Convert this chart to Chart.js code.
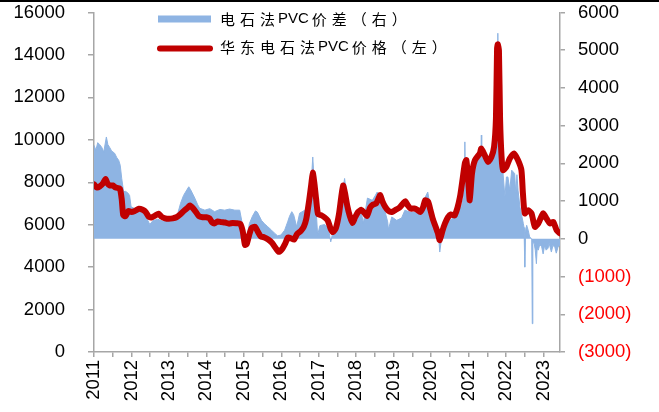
<!DOCTYPE html>
<html>
<head>
<meta charset="utf-8">
<script src="https://cdn.jsdelivr.net/npm/chart.js@4"></script>
<style>
  html, body { margin: 0; padding: 0; background: #fff; overflow: hidden; }
  #wrap { position: relative; width: 659px; height: 412px; }
  #topRule { position: absolute; left: 0; top: 0; width: 659px; height: 2px; background: #000; }
</style>
</head>
<body>
<div id="wrap">
  <canvas id="pvcChart" width="659" height="412"></canvas>
  <div id="topRule"></div>
</div>
<script>
const seriesNames = ['电石法PVC价差（右）', '华东电石法PVC价格（左）'];

// 华东电石法PVC价格 (元/吨, left axis)
const priceYears = [
    2011.00, 2011.08, 2011.15, 2011.24, 2011.31, 2011.36, 2011.42, 2011.50, 2011.58, 2011.69,
    2011.74, 2011.78, 2011.84, 2011.92, 2012.00, 2012.09, 2012.20, 2012.30, 2012.38, 2012.46,
    2012.55, 2012.65, 2012.72, 2012.80, 2012.90, 2013.00, 2013.10, 2013.20, 2013.30, 2013.40,
    2013.50, 2013.56, 2013.64, 2013.72, 2013.80, 2013.90, 2014.00, 2014.08, 2014.16, 2014.22,
    2014.30, 2014.40, 2014.50, 2014.60, 2014.70, 2014.80, 2014.90, 2014.97, 2015.03, 2015.08,
    2015.14, 2015.21, 2015.30, 2015.38, 2015.45, 2015.55, 2015.65, 2015.75, 2015.83, 2015.93,
    2016.02, 2016.10, 2016.18, 2016.27, 2016.34, 2016.42, 2016.52, 2016.60, 2016.67, 2016.74,
    2016.80, 2016.84, 2016.88, 2016.93, 2016.98, 2017.06, 2017.15, 2017.24, 2017.32, 2017.38,
    2017.46, 2017.54, 2017.60, 2017.65, 2017.70, 2017.76, 2017.83, 2017.90, 2017.97, 2018.05,
    2018.14, 2018.22, 2018.29, 2018.37, 2018.45, 2018.53, 2018.60, 2018.64, 2018.70, 2018.77,
    2018.86, 2018.95, 2019.05, 2019.15, 2019.25, 2019.31, 2019.38, 2019.45, 2019.55, 2019.63,
    2019.71, 2019.78, 2019.84, 2019.92, 2019.98, 2020.04, 2020.12, 2020.18, 2020.23, 2020.30,
    2020.37, 2020.45, 2020.53, 2020.63, 2020.77, 2020.90, 2020.94, 2020.99, 2021.03, 2021.09,
    2021.17, 2021.30, 2021.34, 2021.43, 2021.52, 2021.61, 2021.68, 2021.73, 2021.76, 2021.78,
    2021.81, 2021.84, 2021.88, 2021.92, 2022.01, 2022.10, 2022.21, 2022.32, 2022.41, 2022.45,
    2022.50, 2022.59, 2022.68, 2022.77, 2022.86, 2022.99, 2023.08, 2023.17, 2023.26, 2023.35,
    2023.44
];
const priceValues = [
    7900, 7750, 7800, 7950, 8150, 7950, 7850, 7850, 7750, 7700,
    7200, 6450, 6400, 6650, 6600, 6650, 6750, 6700, 6600, 6380,
    6350, 6450, 6520, 6380, 6300, 6280, 6300, 6350, 6480, 6650,
    6800, 6900, 6780, 6600, 6400, 6350, 6350, 6300, 6100, 6060,
    6150, 6120, 6100, 6050, 6080, 6070, 6050, 5700, 5050, 5100,
    5500, 5850, 5900, 5650, 5450, 5400, 5300, 5150, 4950, 4720,
    4850, 5100, 5400, 5350, 5300, 5550, 5700, 5900, 6300, 7100,
    7900, 8450, 8000, 7200, 6500, 6450, 6350, 6200, 5800, 5650,
    5850, 6500, 7300, 7850, 7500, 6900, 6400, 6080, 6350, 6600,
    6700, 6550, 6420, 6800, 6950, 7000, 7250, 7400, 7100, 6850,
    6650, 6600, 6700, 6800, 7000, 7100, 6900, 6760, 6760, 6700,
    6600, 6800, 7150, 7080, 6700, 6300, 5900, 5600, 5270, 5700,
    6060, 6350, 6480, 6440, 7310, 8890, 9040, 8100, 7150, 8410,
    9040, 9360, 9590, 9280, 8960, 9200, 9670, 11000, 14300, 14500,
    14200, 11000, 9200, 8570, 8730, 9120, 9360, 9040, 8570, 7480,
    6530, 6680, 6530, 5900, 6060, 6530, 6290, 6060, 6130, 5740,
    5590
];

// 电石法PVC价差 (元/吨, right axis)
const spreadYears = [
    2011.00, 2011.05, 2011.10, 2011.15, 2011.21, 2011.26, 2011.33, 2011.37, 2011.42, 2011.47,
    2011.55, 2011.61, 2011.66, 2011.70, 2011.74, 2011.79, 2011.84, 2011.90, 2011.95, 2011.99,
    2012.09, 2012.22, 2012.35, 2012.43, 2012.49, 2012.57, 2012.70, 2012.83, 2012.97, 2013.10,
    2013.23, 2013.31, 2013.39, 2013.48, 2013.53, 2013.58, 2013.69, 2013.77, 2013.82, 2013.96,
    2014.09, 2014.22, 2014.36, 2014.49, 2014.62, 2014.76, 2014.89, 2014.94, 2014.98, 2015.05,
    2015.10, 2015.15, 2015.23, 2015.31, 2015.36, 2015.47, 2015.55, 2015.64, 2015.74, 2015.82,
    2015.90, 2015.99, 2016.09, 2016.17, 2016.22, 2016.28, 2016.33, 2016.41, 2016.49, 2016.63,
    2016.71, 2016.76, 2016.80, 2016.84, 2016.88, 2016.92, 2016.97, 2017.03, 2017.16, 2017.24,
    2017.29, 2017.32, 2017.37, 2017.48, 2017.56, 2017.61, 2017.69, 2017.73, 2017.77, 2017.82,
    2017.90, 2018.01, 2018.14, 2018.19, 2018.30, 2018.43, 2018.51, 2018.56, 2018.66, 2018.76,
    2018.84, 2018.86, 2018.95, 2019.08, 2019.21, 2019.30, 2019.43, 2019.56, 2019.70, 2019.83,
    2019.91, 2019.99, 2020.07, 2020.15, 2020.20, 2020.23, 2020.28, 2020.37, 2020.50, 2020.63,
    2020.74, 2020.81, 2020.86, 2020.89, 2020.90, 2020.91, 2020.94, 2020.99, 2021.03, 2021.12,
    2021.21, 2021.30, 2021.33, 2021.34, 2021.35, 2021.43, 2021.52, 2021.65, 2021.74, 2021.765,
    2021.78, 2021.795, 2021.82, 2021.86, 2021.92, 2021.97, 2022.01, 2022.05, 2022.10, 2022.15,
    2022.23, 2022.26, 2022.29, 2022.32, 2022.37, 2022.46, 2022.48, 2022.50, 2022.52, 2022.55,
    2022.59, 2022.63, 2022.685, 2022.70, 2022.715, 2022.75, 2022.78, 2022.81, 2022.83, 2022.86,
    2022.90, 2022.95, 2022.99, 2023.03, 2023.07, 2023.12, 2023.15, 2023.21, 2023.25, 2023.30,
    2023.34, 2023.39, 2023.44
];
const spreadValues = [
    2480, 2350, 2550, 2500, 2420, 2300, 2700, 2500, 2420, 2330,
    2270, 2150, 2080, 1950, 1600, 1250, 1260, 1220, 1150, 850,
    800, 820, 680, 500, 380, 480, 520, 470, 520, 500,
    650, 940, 1150, 1300, 1380, 1300, 1080, 900, 810, 760,
    800, 720, 780, 760, 790, 760, 760, 500, 230, 60,
    150, 410, 600, 740, 710, 490, 400, 320, 230, 150,
    80, 100, 230, 450, 600, 720, 640, 320, 680, 760,
    820, 1100, 1500, 2170, 1500, 940, 100, 350, 380, 300,
    100, -80, 150, 490, 800, 1110, 1600, 1300, 940, 680,
    410, 580, 680, 410, 1080, 1020, 1150, 1240, 980, 760,
    450, 250, 580, 490, 550, 760, 710, 710, 680, 1080,
    1240, 760, 230, 0, 50, -350, 30, 280, 490, 580,
    850, 850, 1100, 1500, 2570, 1600, 1730, 1200, 890, 1550,
    2000, 2200, 2300, 2750, 2200, 2080, 2040, 2220, 2350, 3000,
    5450, 3000, 2400, 2080, 1730, 1110, 1640, 1640, 1290, 1820,
    1730, 1200, 1700, 1290, 850, 410, 300, -750, 200, 360,
    230, 50, 0, -2250, -100, -120, -300, -660, -250, -300,
    -150, -210, -400, -170, -300, -250, -120, -350, -180, -210,
    -380, -210, -170
];

const priceColor = '#C00000';
const spreadColor = '#8EB4E3';
const axisColor = '#A6A6A6';
const tickFont = { size: 18.5, family: '"Liberation Sans", Arial, sans-serif' };

// CJK glyphs on a fixed 20px pitch, latin runs at their natural width
function drawLegendText(c, text, x, y) {
    let cx = x, run = '';
    c.textBaseline = 'middle';
    c.textAlign = 'left';
    c.fillStyle = '#000';
    const flush = () => {
        if (!run) return;
        c.font = '15px "Liberation Sans", Arial, sans-serif';
        c.fillText(run, cx - 2, y);
        cx += c.measureText(run).width + 1;
        run = '';
    };
    for (const ch of text) {
        if (ch.charCodeAt(0) < 128) { run += ch; continue; }
        flush();
        c.font = '15px "Noto Sans CJK SC", sans-serif';
        c.fillText(ch, cx, y);
        cx += 20;
    }
    flush();
}

const legendPlugin = {
    id: 'stackedLegend',
    afterDraw(chart) {
        const c = chart.ctx;
        c.save();
        c.fillStyle = spreadColor;
        c.fillRect(158, 15.5, 53, 7);
        c.strokeStyle = priceColor;
        c.lineWidth = 6;
        c.lineCap = 'round';
        c.beginPath();
        c.moveTo(160, 48.5);
        c.lineTo(210, 48.5);
        c.stroke();
        drawLegendText(c, seriesNames[0], 220, 19);
        drawLegendText(c, seriesNames[1], 220, 47);
        c.restore();
    }
};

// fixed axis boxes; the tick padding would otherwise push the plot top down
function fixVertical(width) {
    return (s) => { s.width = width; s.paddingTop = 8; s.paddingBottom = 8; };
}

const ctx = document.getElementById('pvcChart');

new Chart(ctx.getContext('2d'), {
    type: 'line',
    data: {
        datasets: [{
            label: seriesNames[1],
            data: priceYears.map((x, i) => ({ x, y: priceValues[i] })),
            yAxisID: 'y',
            borderColor: priceColor,
            borderWidth: 6,
            borderJoinStyle: 'round',
            borderCapStyle: 'round',
            pointRadius: 0,
            tension: 0.2,
            fill: false,
            order: 0
        }, {
            label: seriesNames[0],
            data: spreadYears.map((x, i) => ({ x, y: spreadValues[i] })),
            yAxisID: 'y1',
            borderColor: spreadColor,
            backgroundColor: spreadColor,
            borderWidth: 1,
            pointRadius: 0,
            tension: 0,
            fill: 'origin',
            order: 1
        }]
    },
    options: {
        responsive: false,
        animation: false,
        layout: { padding: { top: 12.5, left: 0, right: 0, bottom: 0 } },
        plugins: { legend: { display: false }, tooltip: { enabled: false } },
        scales: {
            x: {
                type: 'linear',
                min: 2011, max: 2023.44,
                afterFit: (s) => { s.height = 60; },
                grid: { display: true, drawOnChartArea: false, drawTicks: true, tickLength: 5, color: axisColor, lineWidth: 1.5 },
                border: { display: true, color: axisColor, width: 1.5 },
                ticks: {
                    stepSize: 0.5, includeBounds: false, autoSkip: false,
                    minRotation: 90, maxRotation: 90, padding: 3,
                    color: '#000', font: tickFont,
                    callback: (v) => Number.isInteger(v) ? String(v) : ''
                }
            },
            y: {
                position: 'left',
                min: 0, max: 16000,
                afterFit: fixVertical(94),
                grid: { display: true, drawOnChartArea: false, drawTicks: true, tickLength: 6, color: axisColor, lineWidth: 1.5 },
                border: { display: true, color: axisColor, width: 1.5 },
                ticks: { stepSize: 2000, padding: 23, color: '#000', font: tickFont, callback: (v) => String(v) }
            },
            y1: {
                position: 'right',
                min: -3000, max: 6000,
                afterFit: fixVertical(99),
                grid: { display: true, drawOnChartArea: false, drawTicks: true, tickLength: 5, color: axisColor, lineWidth: 1.5 },
                border: { display: true, color: axisColor, width: 1.5 },
                ticks: {
                    stepSize: 1000, padding: 13, font: tickFont,
                    color: (c) => c.tick && c.tick.value < 0 ? '#FF0000' : '#000',
                    callback: (v) => v < 0 ? '(' + Math.abs(v) + ')' : String(v)
                }
            }
        }
    },
    plugins: [legendPlugin]
});
</script>
</body>
</html>
